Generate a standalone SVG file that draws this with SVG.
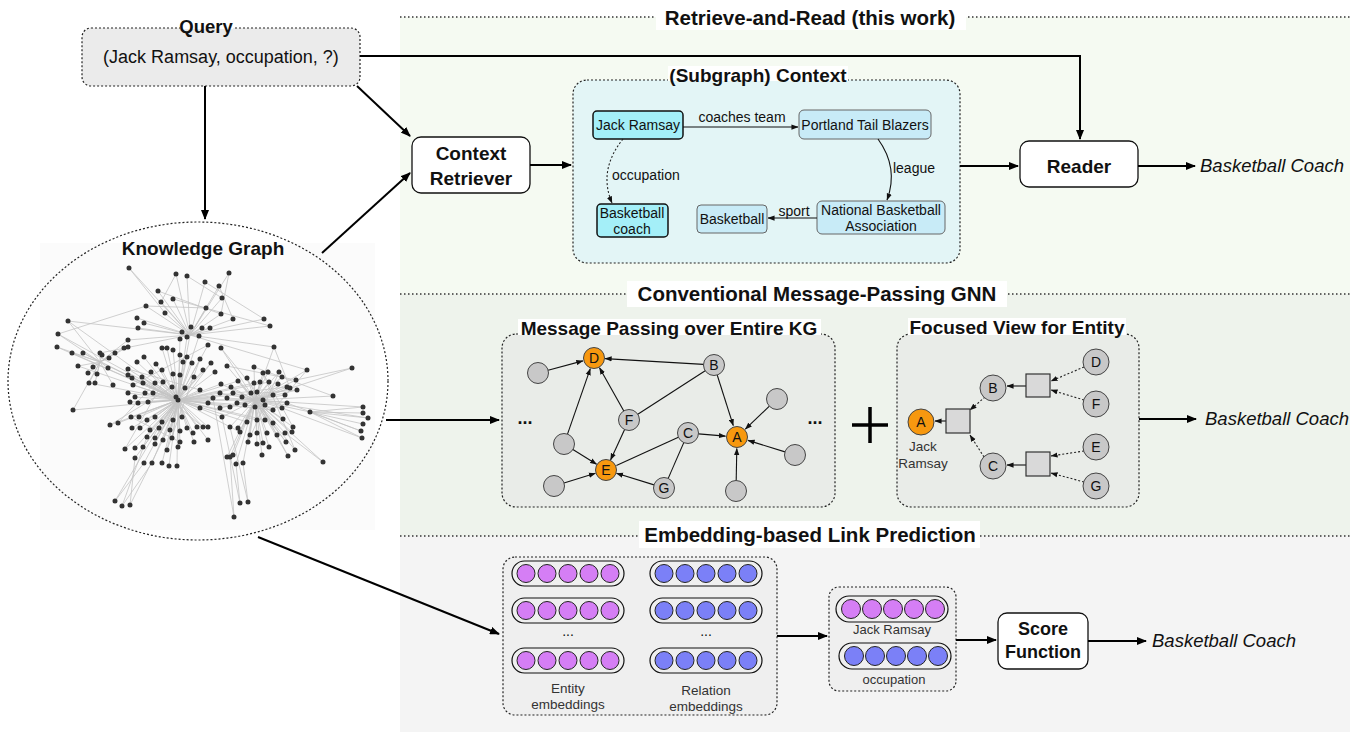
<svg xmlns="http://www.w3.org/2000/svg" width="1372" height="732" viewBox="0 0 1372 732">
<defs>
<style>
text{font-family:"Liberation Sans",Arial,Helvetica,sans-serif;fill:#111}
.b{font-weight:bold}
.sec{font-size:20.5px;font-weight:bold;text-anchor:middle}
.ttl{font-size:19px;font-weight:bold;text-anchor:middle}
.lbl{font-size:19px;font-weight:bold;text-anchor:middle}
.out{font-size:18.5px;font-style:italic}
.sm{font-size:14px}
.mid{text-anchor:middle}
.dotline{stroke:#333;stroke-width:1.3;stroke-dasharray:1.5 2.5;fill:none}
.dbox{stroke:#222;stroke-width:1.2;stroke-dasharray:2 2}
.arr{stroke:#000;stroke-width:2;fill:none;marker-end:url(#ah)}
.sa{stroke:#111;stroke-width:1.1;fill:none;marker-end:url(#as)}
.sl{stroke:#111;stroke-width:1.1;fill:none}
.da{stroke:#222;stroke-width:1.1;stroke-dasharray:2 2;fill:none;marker-end:url(#as)}
.g{fill:#c8c8c8;stroke:#444;stroke-width:1}
.o{fill:#f7980f;stroke:#444;stroke-width:1}
.sq{fill:#d9d9d9;stroke:#333;stroke-width:1.2}
.pill{fill:none;stroke:#111;stroke-width:1.2}
.ent{fill:#d57ef5;stroke:#222;stroke-width:1}
.rel{fill:#7b80f7;stroke:#222;stroke-width:1}
.wb{fill:#fff;stroke:#111;stroke-width:1.3}
.cy{fill:#a4eff8;stroke:#111;stroke-width:1.5}
.lb{fill:#c8ebf7;stroke:#666;stroke-width:1}
.nl{font-size:14px;text-anchor:middle}
.gt{fill:#333}
</style>
<marker id="ah" viewBox="0 0 10 8" refX="9" refY="4" markerWidth="10" markerHeight="8" orient="auto" markerUnits="userSpaceOnUse"><path d="M0,0 L10,4 L0,8 z" fill="#000"/></marker>
<marker id="as" viewBox="0 0 8 6" refX="7.5" refY="3" markerWidth="7" markerHeight="6" orient="auto" markerUnits="userSpaceOnUse"><path d="M0,0 L8,3 L0,6 z" fill="#111"/></marker>
</defs>

<rect width="1372" height="732" fill="#fff"/>

<g id="sections">
<rect x="400" y="17" width="950" height="277" fill="#f5faf2"/>
<rect x="400" y="294" width="950" height="242" fill="#eef3ec"/>
<rect x="400" y="536" width="950" height="196" fill="#f4f4f4"/>
<line class="dotline" x1="400" y1="17" x2="1350" y2="17"/>
<line class="dotline" x1="400" y1="294" x2="1350" y2="294"/>
<line class="dotline" x1="400" y1="536" x2="1350" y2="536"/>
<rect x="656" y="2" width="310" height="28" fill="#fff"/>
<rect x="627" y="281" width="380" height="26" fill="#fff"/>
<rect x="639" y="521" width="341" height="27" fill="#fff"/>
<text class="sec" x="810" y="25">Retrieve-and-Read (this work)</text>
<text class="sec" x="817" y="301">Conventional Message-Passing GNN</text>
<text class="sec" x="810" y="542">Embedding-based Link Prediction</text>
</g>

<g id="query">
<rect x="82" y="28" width="278" height="58" rx="9" fill="#ebebeb" class="dbox"/>
<rect x="180" y="17" width="53" height="12" fill="#fff"/>
<text class="b" x="206" y="33" font-size="18.5" text-anchor="middle">Query</text>
<text x="221" y="63" font-size="18" text-anchor="middle">(Jack Ramsay, occupation, ?)</text>
</g>

<g id="knowledge-graph">
<ellipse cx="198" cy="381" rx="190" ry="159" fill="#fff"/>
<rect x="40" y="243" width="335" height="287" fill="#fbfbfb"/>
<path fill="none" stroke="#c4c4c4" stroke-width="0.8" d="M129 268L190 335M176 274L190 335M187 276L190 335M229 273L190 335M205 282L190 335M219 286L190 335M158 291L190 335M222 298L190 335M173 299L190 335M161 302L190 335M146 306L190 335M206 308L190 335M221 314L190 335M165 313L190 335M137 318L190 335M233 319L190 335M264 319L190 335M144 323L190 335M270 326L190 335M138 328L190 335M182 332L190 335M191 327L190 335M202 328L190 335M210 328L190 335M176 274L161 302M187 276L222 298M229 273L221 314M205 282L264 319M158 291L221 314M129 268L165 313M219 286L233 319M146 306L206 308M173 299L270 326M190 335L178 400M190 335L274 347M190 335L307 370M190 335L128 340M190 335L100 353M68 321L100 362M58 334L100 362M57 347L100 362M100 353L100 362M115 353L100 362M72 353L100 362M83 353L100 362M102 355L100 362M109 358L100 362M78 366L100 362M93 367L100 362M108 368L100 362M88 373L100 362M97 374L100 362M89 383L100 362M95 383L100 362M113 385L100 362M73 410L100 362M128 340L100 362M124 348L100 362M128 347L100 362M100 362L178 400M68 321L178 400M58 334L178 400M57 347L178 400M72 353L178 400M83 353L178 400M78 366L178 400M89 383L178 400M73 410L178 400M68 321L190 335M58 334L146 306M199 336L178 400M187 337L178 400M180 339L178 400M208 345L178 400M167 348L178 400M162 348L178 400M173 350L178 400M180 355L178 400M187 357L178 400M144 357L178 400M137 362L178 400M156 364L178 400M183 362L178 400M192 363L178 400M200 359L178 400M211 363L178 400M128 369L178 400M128 375L178 400M142 377L178 400M151 372L178 400M162 370L178 400M173 374L178 400M180 375L178 400M194 377L178 400M203 370L178 400M215 372L178 400M132 378L178 400M133 385L178 400M143 383L178 400M155 383L178 400M163 382L178 400M172 387L178 400M185 388L178 400M200 390L178 400M128 393L178 400M135 397L178 400M145 393L178 400M153 393L178 400M176 397L178 400M213 398L178 400M130 402L178 400M138 403L178 400M148 402L178 400M200 408L178 400M208 403L178 400M110 425L178 400M118 423L178 400M131 417L178 400M139 417L178 400M147 420L178 400M155 417L178 400M162 422L178 400M173 420L178 400M182 417L178 400M197 427L178 400M203 427L178 400M208 427L178 400M132 428L178 400M140 428L178 400M150 430L178 400M159 428L178 400M170 430L178 400M180 431L178 400M187 428L178 400M193 433L178 400M147 437L178 400M155 438L178 400M163 440L178 400M172 438L178 400M180 442L178 400M208 440L178 400M125 449L178 400M135 448L178 400M143 447L178 400M155 444L178 400M167 450L178 400M178 447L178 400M194 442L178 400M135 458L178 400M144 463L178 400M152 463L178 400M162 463L178 400M169 466L178 400M177 466L178 400M128 369L200 390M142 377L203 427M133 385L208 345M155 438L211 363M125 449L163 382M110 425L172 387M118 423L155 383M180 442L131 417M167 450L200 359M221 348L255 400M227 366L255 400M307 370L255 400M254 367L255 400M263 373L255 400M268 372L255 400M279 372L255 400M282 377L255 400M296 380L255 400M221 384L255 400M231 387L255 400M238 381L255 400M247 378L255 400M254 383L255 400M260 382L255 400M269 382L255 400M278 384L255 400M287 387L255 400M290 388L255 400M297 390L255 400M333 396L255 400M220 393L255 400M227 398L255 400M233 393L255 400M242 397L255 400M251 393L255 400M257 392L255 400M273 395L255 400M285 395L255 400M287 403L255 400M220 408L255 400M230 407L255 400M237 403L255 400M245 405L255 400M265 405L255 400M273 410L255 400M282 408L255 400M310 412L255 400M222 417L255 400M230 427L255 400M238 428L255 400M247 422L255 400M257 420L255 400M265 420L255 400M273 423L255 400M283 419L255 400M293 427L255 400M240 432L255 400M250 435L255 400M257 433L255 400M267 433L255 400M277 435L255 400M285 433L255 400M292 432L255 400M248 442L255 400M257 444L255 400M263 443L255 400M269 447L255 400M286 442L255 400M262 455L255 400M288 456L255 400M295 450L255 400M230 457L255 400M233 455L255 400M227 457L255 400M236 464L255 400M243 463L255 400M323 462L255 400M274 347L255 400M352 368L255 400M178 400L255 400M178 400L221 384M178 400L238 381M178 400L254 383M178 400L220 393M178 400L263 400M178 400L230 407M178 400L222 417M178 400L247 422M178 400L240 432M178 400L269 382M178 400L287 387M178 400L297 390M178 400L273 410M178 400L282 408M178 400L257 420M178 400L265 420M227 366L296 380M254 367L333 396M263 373L293 427M279 372L248 442M238 381L286 442M221 348L263 400M274 347L290 388M307 370L273 410M352 368L296 380M323 462L285 433M295 450L263 373M288 456L247 378M363 407L310 412M363 413L310 412M368 418L310 412M363 424L310 412M361 431L310 412M362 438L310 412M363 407L255 400M368 418L255 400M362 438L282 408M361 431L287 403M240 503L236 464M240 503L222 417M248 502L243 463M248 502L230 427M234 517L230 457M234 517L213 398M115 501L144 463M115 501L162 422M122 506L152 463M122 506L147 437M130 505L135 458M130 505L173 420"/>
<path fill="none" stroke="#333" stroke-width="5" stroke-linecap="round" d="M129 268h0M176 274h0M187 276h0M229 273h0M205 282h0M219 286h0M158 291h0M222 298h0M173 299h0M161 302h0M146 306h0M206 308h0M221 314h0M165 313h0M137 318h0M233 319h0M264 319h0M144 323h0M270 326h0M138 328h0M182 332h0M191 327h0M202 328h0M210 328h0M68 321h0M58 334h0M57 347h0M100 353h0M115 353h0M72 353h0M83 353h0M102 355h0M109 358h0M78 366h0M93 367h0M108 368h0M88 373h0M97 374h0M89 383h0M95 383h0M113 385h0M73 410h0M128 340h0M124 348h0M128 347h0M199 336h0M187 337h0M180 339h0M208 345h0M167 348h0M162 348h0M173 350h0M180 355h0M187 357h0M144 357h0M137 362h0M156 364h0M183 362h0M192 363h0M200 359h0M211 363h0M128 369h0M128 375h0M142 377h0M151 372h0M162 370h0M173 374h0M180 375h0M194 377h0M203 370h0M215 372h0M132 378h0M133 385h0M143 383h0M155 383h0M163 382h0M172 387h0M185 388h0M200 390h0M128 393h0M135 397h0M145 393h0M153 393h0M176 397h0M178 400h0M213 398h0M130 402h0M138 403h0M148 402h0M200 408h0M208 403h0M110 425h0M118 423h0M131 417h0M139 417h0M147 420h0M155 417h0M162 422h0M173 420h0M182 417h0M197 427h0M203 427h0M208 427h0M132 428h0M140 428h0M150 430h0M159 428h0M170 430h0M180 431h0M187 428h0M193 433h0M147 437h0M155 438h0M163 440h0M172 438h0M180 442h0M208 440h0M125 449h0M135 448h0M143 447h0M155 444h0M167 450h0M178 447h0M194 442h0M135 458h0M144 463h0M152 463h0M162 463h0M169 466h0M177 466h0M221 348h0M227 366h0M307 370h0M254 367h0M263 373h0M268 372h0M279 372h0M282 377h0M296 380h0M221 384h0M231 387h0M238 381h0M247 378h0M254 383h0M260 382h0M269 382h0M278 384h0M287 387h0M290 388h0M297 390h0M333 396h0M220 393h0M227 398h0M233 393h0M242 397h0M251 393h0M257 392h0M263 400h0M273 395h0M285 395h0M287 403h0M220 408h0M230 407h0M237 403h0M245 405h0M255 407h0M265 405h0M273 410h0M282 408h0M310 412h0M222 417h0M230 427h0M238 428h0M247 422h0M257 420h0M265 420h0M273 423h0M283 419h0M293 427h0M240 432h0M250 435h0M257 433h0M267 433h0M277 435h0M285 433h0M292 432h0M248 442h0M257 444h0M263 443h0M269 447h0M286 442h0M262 455h0M288 456h0M295 450h0M230 457h0M233 455h0M227 457h0M236 464h0M243 463h0M323 462h0M274 347h0M352 368h0M363 407h0M363 413h0M368 418h0M363 424h0M361 431h0M362 438h0M115 501h0M122 506h0M130 505h0M240 503h0M248 502h0M234 517h0"/>
<ellipse cx="198" cy="381" rx="190" ry="159" fill="none" class="dbox"/>
<text class="lbl" x="203" y="255">Knowledge Graph</text>
</g>

<g id="context-retriever">
<rect x="412" y="137" width="118" height="56" rx="9" class="wb"/>
<text class="lbl" x="471" y="160">Context</text>
<text class="lbl" x="471" y="185">Retriever</text>
</g>

<g id="subgraph-context">
<rect x="573" y="80" width="387" height="183" rx="14" fill="#e3f5f6" class="dbox"/>
<rect x="668" y="66" width="180" height="15" fill="#fff"/>
<text class="ttl" x="758" y="82">(Subgraph) Context</text>
<g id="sg-jack"><rect x="593" y="111" width="90" height="28" rx="4" class="cy"/><text class="nl" x="638" y="130">Jack Ramsay</text></g>
<g id="sg-portland"><rect x="799" y="110" width="132" height="29" rx="5" class="lb"/><text class="nl" x="865" y="130">Portland Tail Blazers</text></g>
<g id="sg-nba"><rect x="817" y="201" width="128" height="33" rx="5" class="lb"/><text class="nl" x="881" y="215">National Basketball</text><text class="nl" x="881" y="231">Association</text></g>
<g id="sg-basketball"><rect x="697" y="205" width="70" height="28" rx="4" class="lb"/><text class="nl" x="732" y="224">Basketball</text></g>
<g id="sg-coach"><rect x="597" y="204" width="71" height="33" rx="4" class="cy"/><text class="nl" x="632" y="218">Basketball</text><text class="nl" x="632" y="234">coach</text></g>
<g id="sg-edges">
<line class="sa" x1="683" y1="127" x2="798" y2="127"/>
<text class="nl" x="742" y="122">coaches team</text>
<path class="sa" d="M878 139 Q899 168 887 200"/>
<text class="nl" x="914" y="173">league</text>
<line class="sa" x1="817" y1="218" x2="768" y2="218"/>
<text class="nl" x="794" y="216">sport</text>
<path class="da" d="M623 139 Q598 170 612 203"/>
<text class="sm" x="612" y="180">occupation</text>
</g>
</g>

<g id="reader">
<rect x="1020" y="141" width="118" height="46" rx="9" class="wb"/>
<text class="lbl" x="1079" y="173">Reader</text>
</g>
<text class="out" x="1200" y="172">Basketball Coach</text>

<g id="message-passing">
<rect x="502" y="334" width="333" height="173" rx="14" fill="#e9ece8" class="dbox"/>
<rect x="518" y="319" width="303" height="16" fill="#fff"/>
<text class="ttl" x="669" y="335">Message Passing over Entire KG</text>
<g id="mp-edges">
<line class="sa" x1="548.1" y1="370.3" x2="582.9" y2="360.9"/>
<line class="sa" x1="703.5" y1="364.4" x2="605.1" y2="358.6"/>
<line class="sa" x1="623.8" y1="410.9" x2="599.5" y2="367.7"/>
<line class="sa" x1="567.5" y1="434.1" x2="590.3" y2="368.6"/>
<line class="sa" x1="624.6" y1="429.5" x2="610.6" y2="459.9"/>
<line class="sa" x1="572.9" y1="449.5" x2="596.6" y2="464.2"/>
<line class="sa" x1="564" y1="483" x2="595.4" y2="473.3"/>
<line class="sa" x1="654" y1="484.9" x2="616.5" y2="473.3"/>
<line class="sl" x1="678.4" y1="437.3" x2="616.4" y2="465.4"/>
<line class="sl" x1="637.8" y1="414.3" x2="705.2" y2="370.7"/>
<line class="sa" x1="717.2" y1="375" x2="733.3" y2="425.6"/>
<line class="sa" x1="698.5" y1="433.9" x2="725.5" y2="436.1"/>
<line class="sa" x1="769.4" y1="406.2" x2="745.3" y2="429.1"/>
<line class="sa" x1="785" y1="451.9" x2="748" y2="440.4"/>
<line class="sa" x1="736.2" y1="480.5" x2="736.8" y2="448.5"/>
<line class="sl" x1="668.2" y1="478.4" x2="683.8" y2="442.6"/>
</g>
<g id="mp-nodes">
<circle class="g" cx="538" cy="373" r="10.5"/>
<circle class="g" cx="564" cy="444" r="10.5"/>
<circle class="g" cx="554" cy="486" r="10.5"/>
<circle class="g" cx="777" cy="399" r="10.5"/>
<circle class="g" cx="795" cy="455" r="10.5"/>
<circle class="g" cx="736" cy="491" r="10.5"/>
<circle class="o" cx="594" cy="358" r="10.5"/><text class="nl" x="594" y="363">D</text>
<circle class="g" cx="714" cy="365" r="10.5"/><text class="nl" x="714" y="370">B</text>
<circle class="g" cx="629" cy="420" r="10.5"/><text class="nl" x="629" y="425">F</text>
<circle class="g" cx="688" cy="433" r="10.5"/><text class="nl" x="688" y="438">C</text>
<circle class="o" cx="737" cy="437" r="10.5"/><text class="nl" x="737" y="442">A</text>
<circle class="o" cx="606" cy="470" r="10.5"/><text class="nl" x="606" y="475">E</text>
<circle class="g" cx="664" cy="488" r="10.5"/><text class="nl" x="664" y="493">G</text>
</g>
<text class="b mid" x="525" y="424" font-size="18">...</text>
<text class="b mid" x="815" y="424" font-size="18">...</text>
</g>

<g id="plus"><path d="M852 425H888M870 407V443" stroke="#000" stroke-width="3.5" fill="none"/></g>

<g id="focused-view">
<rect x="897" y="334" width="242" height="173" rx="14" fill="#e9ece8" class="dbox"/>
<rect x="908" y="318" width="218" height="17" fill="#fff"/>
<text class="ttl" x="1017" y="334">Focused View for Entity</text>
<g id="fv-edges">
<line class="sa" x1="946" y1="421" x2="935" y2="421"/>
<line class="da" x1="985" y1="397" x2="970" y2="410"/>
<line class="da" x1="984" y1="457" x2="970" y2="435"/>
<line class="sa" x1="1026" y1="386" x2="1007" y2="386"/>
<line class="sa" x1="1026" y1="465" x2="1007" y2="465"/>
<line class="da" x1="1084" y1="367" x2="1051" y2="381"/>
<line class="da" x1="1084" y1="400" x2="1051" y2="390"/>
<line class="da" x1="1084" y1="451" x2="1051" y2="456"/>
<line class="da" x1="1084" y1="482" x2="1051" y2="473"/>
</g>
<g id="fv-nodes">
<circle class="o" cx="921" cy="422" r="13"/><text class="nl" x="921" y="427">A</text>
<rect class="sq" x="946" y="409" width="24" height="24"/>
<circle class="g" cx="993" cy="388" r="13"/><text class="nl" x="993" y="393">B</text>
<circle class="g" cx="993" cy="466" r="13"/><text class="nl" x="993" y="471">C</text>
<rect class="sq" x="1026" y="374" width="24" height="23"/>
<rect class="sq" x="1026" y="452" width="24" height="24"/>
<circle class="g" cx="1096" cy="362" r="13"/><text class="nl" x="1096" y="367">D</text>
<circle class="g" cx="1096" cy="404" r="13"/><text class="nl" x="1096" y="409">F</text>
<circle class="g" cx="1096" cy="447" r="13"/><text class="nl" x="1096" y="452">E</text>
<circle class="g" cx="1096" cy="486" r="13"/><text class="nl" x="1096" y="491">G</text>
<text class="mid gt" x="923" y="451" font-size="13.5">Jack</text>
<text class="mid gt" x="923" y="468" font-size="13.5">Ramsay</text>
</g>
</g>
<text class="out" x="1205" y="425">Basketball Coach</text>

<g id="embeddings">
<rect x="503" y="557" width="274" height="158" rx="12" fill="#efefef" class="dbox"/>
<g id="entity-embeddings">
<rect class="pill" x="512" y="561" width="112" height="25" rx="12.5"/>
<rect class="pill" x="512" y="598" width="112" height="25" rx="12.5"/>
<rect class="pill" x="512" y="648" width="112" height="25" rx="12.5"/>
<g class="ent">
<circle cx="526" cy="573.5" r="9"/><circle cx="547" cy="573.5" r="9"/><circle cx="568" cy="573.5" r="9"/><circle cx="589" cy="573.5" r="9"/><circle cx="610" cy="573.5" r="9"/>
<circle cx="526" cy="610.5" r="9"/><circle cx="547" cy="610.5" r="9"/><circle cx="568" cy="610.5" r="9"/><circle cx="589" cy="610.5" r="9"/><circle cx="610" cy="610.5" r="9"/>
<circle cx="526" cy="660.5" r="9"/><circle cx="547" cy="660.5" r="9"/><circle cx="568" cy="660.5" r="9"/><circle cx="589" cy="660.5" r="9"/><circle cx="610" cy="660.5" r="9"/>
</g>
<text class="mid" x="568" y="636" font-size="14">...</text>
<text class="mid gt" x="568" y="693" font-size="13.5">Entity</text>
<text class="mid gt" x="568" y="709" font-size="13.5">embeddings</text>
</g>
<g id="relation-embeddings">
<rect class="pill" x="650" y="561" width="112" height="25" rx="12.5"/>
<rect class="pill" x="650" y="598" width="112" height="25" rx="12.5"/>
<rect class="pill" x="650" y="648" width="112" height="25" rx="12.5"/>
<g class="rel">
<circle cx="664" cy="573.5" r="9"/><circle cx="685" cy="573.5" r="9"/><circle cx="706" cy="573.5" r="9"/><circle cx="727" cy="573.5" r="9"/><circle cx="748" cy="573.5" r="9"/>
<circle cx="664" cy="610.5" r="9"/><circle cx="685" cy="610.5" r="9"/><circle cx="706" cy="610.5" r="9"/><circle cx="727" cy="610.5" r="9"/><circle cx="748" cy="610.5" r="9"/>
<circle cx="664" cy="660.5" r="9"/><circle cx="685" cy="660.5" r="9"/><circle cx="706" cy="660.5" r="9"/><circle cx="727" cy="660.5" r="9"/><circle cx="748" cy="660.5" r="9"/>
</g>
<text class="mid" x="706" y="636" font-size="14">...</text>
<text class="mid gt" x="706" y="695" font-size="13.5">Relation</text>
<text class="mid gt" x="706" y="711" font-size="13.5">embeddings</text>
</g>
</g>

<g id="query-embeddings">
<rect x="829" y="587" width="127" height="104" rx="10" fill="#efefef" class="dbox"/>
<rect class="pill" x="836" y="596" width="112" height="26" rx="13"/>
<g class="ent"><circle cx="851" cy="609" r="9.5"/><circle cx="872" cy="609" r="9.5"/><circle cx="893" cy="609" r="9.5"/><circle cx="914" cy="609" r="9.5"/><circle cx="935" cy="609" r="9.5"/></g>
<text class="mid gt" x="892" y="634" font-size="13">Jack Ramsay</text>
<rect class="pill" x="839" y="643" width="112" height="26" rx="13"/>
<g class="rel"><circle cx="854" cy="656" r="9.5"/><circle cx="875" cy="656" r="9.5"/><circle cx="896" cy="656" r="9.5"/><circle cx="917" cy="656" r="9.5"/><circle cx="938" cy="656" r="9.5"/></g>
<text class="mid gt" x="894" y="684" font-size="13">occupation</text>
</g>

<g id="score-function">
<rect x="998" y="613" width="90" height="56" rx="9" class="wb"/>
<text class="lbl" x="1043" y="635" style="font-size:18px">Score</text>
<text class="lbl" x="1043" y="658" style="font-size:18px">Function</text>
</g>
<text class="out" x="1152" y="647">Basketball Coach</text>

<g id="connectors">
<path class="arr" d="M360 56H1080V139"/>
<path class="arr" d="M357 86L410 136"/>
<path class="arr" d="M205 86V219"/>
<path class="arr" d="M322 253L410 173"/>
<path class="arr" d="M530 165H571"/>
<path class="arr" d="M960 166H1018"/>
<path class="arr" d="M1138 166H1195"/>
<path class="arr" d="M386 420H499"/>
<path class="arr" d="M1139 419H1196"/>
<path class="arr" d="M258 537L499 634"/>
<path class="arr" d="M777 636H827"/>
<path class="arr" d="M956 640H996"/>
<path class="arr" d="M1088 641H1146"/>
</g>
</svg>
